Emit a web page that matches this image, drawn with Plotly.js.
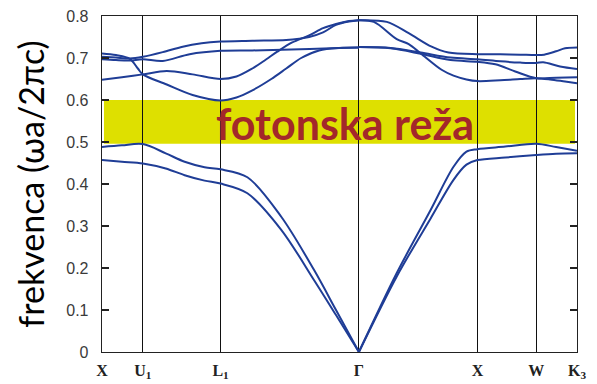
<!DOCTYPE html>
<html>
<head>
<meta charset="utf-8">
<script src="https://cdn.plot.ly/plotly-3.0.1.min.js"></script>
<style>html,body{margin:0;padding:0;background:#fff;}#chart{width:597px;height:384px;}</style>
</head>
<body>
<div id="chart"></div>
<script>
// High-symmetry points along the k-path
const kPos = [0, 41, 119, 258, 377, 436, 477];
const kLabels = ['X', 'U<sub>1</sub>', 'L<sub>1</sub>', 'Γ', 'X', 'W', 'K<sub>3</sub>'];
const yTicks = [0, 0.1, 0.2, 0.3, 0.4, 0.5, 0.6, 0.7, 0.8];
const yTickText = ['0', '0.1', '0.2', '0.3', '0.4', '0.5', '0.6', '0.7', '0.8'];

// Photonic gap
const gapLow = 0.496;
const gapHigh = 0.600;
const gapLabel = 'fotonska reža';

// Lower (acoustic-like) bands, X -> U1 -> L1 -> Γ
const lowLeftX = [0, 20, 41, 64, 83, 103, 119, 146, 180, 213, 235, 258];
const band1Left = [0.457, 0.453, 0.449, 0.437, 0.421, 0.408, 0.401, 0.378, 0.291, 0.171, 0.088, 0];
const band2Left = [0.488, 0.492, 0.495, 0.473, 0.453, 0.440, 0.435, 0.416, 0.322, 0.195, 0.100, 0];
// Lower bands, Γ -> X -> W -> K3
const lowRightX = [258, 296, 330, 353, 366, 377, 405, 436, 456, 477];
const band1Right = [0, 0.180, 0.318, 0.410, 0.446, 0.457, 0.463, 0.469, 0.472, 0.473];
const band2Right = [0, 0.188, 0.338, 0.441, 0.477, 0.483, 0.489, 0.496, 0.488, 0.479];

// Upper bands, X -> U1 -> L1 -> Γ
const upAx = [0, 20, 41, 65, 91, 119, 135, 151, 165, 176, 191, 208, 222, 235, 248, 258];
const upAy = [0.648, 0.654, 0.661, 0.669, 0.661, 0.650, 0.656, 0.675, 0.697, 0.715, 0.737, 0.754, 0.771, 0.781, 0.788, 0.790];
const upBx = [0, 14, 28, 36, 41, 65, 91, 119, 135, 151, 170, 185, 200, 218, 238, 258];
const upBy = [0.711, 0.707, 0.698, 0.675, 0.661, 0.637, 0.612, 0.599, 0.606, 0.623, 0.650, 0.675, 0.700, 0.718, 0.724, 0.725];
const upCx = [0, 14, 28, 41, 61, 81, 100, 119, 151, 185, 198, 208, 222, 235, 248, 258];
const upCy = [0.703, 0.701, 0.699, 0.703, 0.714, 0.727, 0.735, 0.739, 0.741, 0.743, 0.746, 0.750, 0.761, 0.779, 0.787, 0.790];
const upDx = [0, 14, 28, 41, 61, 88, 119, 151, 190, 230, 258];
const upDy = [0.697, 0.695, 0.694, 0.697, 0.693, 0.709, 0.717, 0.718, 0.720, 0.723, 0.725];

// Upper bands, Γ -> X -> W -> K3
const upEx = [258, 286, 308, 331, 348, 377, 400, 420, 436, 444, 456, 465, 477];
const upEy = [0.790, 0.786, 0.759, 0.727, 0.713, 0.709, 0.709, 0.708, 0.707, 0.708, 0.716, 0.723, 0.725];
const upFx = [258, 273, 296, 308, 320, 341, 353, 366, 377, 400, 420, 436, 450, 465, 477];
const upFy = [0.790, 0.786, 0.745, 0.733, 0.711, 0.672, 0.658, 0.649, 0.645, 0.647, 0.650, 0.652, 0.649, 0.644, 0.640];
const upGx = [258, 290, 320, 350, 377, 400, 420, 436, 443, 460, 477];
const upGy = [0.726, 0.724, 0.713, 0.701, 0.697, 0.692, 0.689, 0.688, 0.690, 0.680, 0.674];
const upHx = [258, 290, 320, 350, 377, 395, 415, 436, 456, 477];
const upHy = [0.726, 0.723, 0.710, 0.695, 0.691, 0.685, 0.668, 0.652, 0.653, 0.654];

const bandColor = '#1f3d96';
const pairs = [
  [lowLeftX, band1Left], [lowLeftX, band2Left],
  [lowRightX, band1Right], [lowRightX, band2Right],
  [upAx, upAy], [upBx, upBy], [upCx, upCy], [upDx, upDy],
  [upEx, upEy], [upFx, upFy], [upGx, upGy], [upHx, upHy]
];
const traces = pairs.map(p => ({
  x: p[0], y: p[1], type: 'scatter', mode: 'lines',
  line: {color: bandColor, width: 2, shape: 'spline', smoothing: 0.9},
  hoverinfo: 'skip', showlegend: false
}));

const layout = {
  width: 597, height: 384,
  margin: {l: 102, r: 20, t: 16, b: 32, pad: 0},
  paper_bgcolor: '#fff', plot_bgcolor: '#fff',
  showlegend: false,
  xaxis: {
    range: [0, 477], tickvals: kPos, ticktext: kLabels,
    showgrid: true, gridcolor: '#111', gridwidth: 1,
    showline: true, mirror: true, linecolor: '#222', linewidth: 1.3,
    ticks: '', zeroline: false, ticklabelstandoff: 3,
    tickfont: {family: 'Liberation Serif, serif', size: 16, color: '#222', weight: 700},
    fixedrange: true
  },
  yaxis: {
    range: [0, 0.8], tickvals: yTicks, ticktext: yTickText,
    showgrid: false, zeroline: false,
    showline: true, mirror: 'ticks', linecolor: '#222', linewidth: 1.3,
    ticks: 'inside', ticklen: 7, tickcolor: '#222', tickwidth: 1.2,
    ticklabelstandoff: 9,
    tickfont: {family: 'Liberation Sans, Arial, sans-serif', size: 16, color: '#3a3a3a'},
    title: {text: 'frekvenca (ωa/2πc)', standoff: 11,
            font: {family: 'Lato, sans-serif', size: 34, color: '#000'}},
    fixedrange: true
  },
  shapes: [{
    type: 'rect', layer: 'below', xref: 'x', yref: 'y',
    x0: 2, x1: 475, y0: gapLow, y1: gapHigh,
    fillcolor: 'rgb(222,224,0)', line: {width: 0}
  }],
  annotations: [{
    text: gapLabel, xref: 'x', yref: 'y', x: 244, y: 0.545,
    xanchor: 'center', yanchor: 'middle', showarrow: false,
    font: {family: 'Lato, sans-serif', size: 43, color: '#a3282a', weight: 700}
  }]
};

Plotly.newPlot('chart', traces, layout, {staticPlot: true, displayModeBar: false});
</script>
</body>
</html>
